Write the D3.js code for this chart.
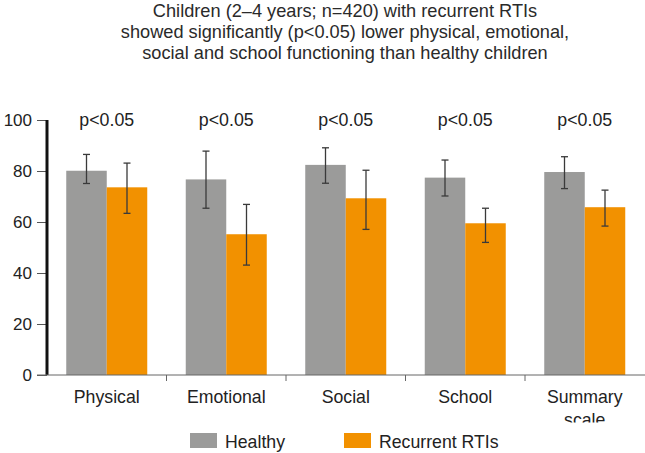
<!DOCTYPE html>
<html><head><meta charset="utf-8">
<script src="https://cdn.jsdelivr.net/npm/d3@7"></script>
<style>body{margin:0;background:#fff}svg{display:block;font-family:"Liberation Sans",Arial,sans-serif}</style>
</head><body><svg id="c" width="645" height="453"></svg>
<script>
const categories = ["Physical","Emotional","Social","School","Summary scale"];
const seriesNames = ["Healthy","Recurrent RTIs"];
const healthy = [80.1, 76.7, 82.4, 77.4, 79.6];
const healthyLow = [75.1, 65.4, 75.2, 70.2, 73.1];
const healthyHigh = [86.5, 87.8, 89.1, 84.3, 85.6];
const recurrent = [73.6, 55.2, 69.3, 59.5, 65.8];
const recurrentLow = [63.4, 43.1, 57.1, 52.0, 58.4];
const recurrentHigh = [83.1, 66.9, 80.3, 65.4, 72.5];
const pLabels = ["p<0.05","p<0.05","p<0.05","p<0.05","p<0.05"];
const yTicks = [0,20,40,60,80,100];
const titleLines = ["Children (2–4 years; n=420) with recurrent RTIs","showed significantly (p<0.05) lower physical, emotional,","social and school functioning than healthy children"];
const colors = ["#9b9b9a","#f29100"];

const svg = d3.select("#c");
const x = d3.scaleBand().domain(categories).range([47,644.5]).paddingInner(0).paddingOuter(0);
const y = d3.scaleLinear().domain([0,100]).range([375,120]);
const groupW = 81;
const x1 = d3.scaleBand().domain(seriesNames).range([0,groupW]);

// title
svg.append("g").selectAll("text").data(titleLines).join("text")
  .attr("x",345).attr("y",(d,i)=>16.5+i*21).attr("text-anchor","middle")
  .attr("font-size",18.2).attr("fill","#2a2a2a").text(d=>d);

const series = [
  {name:seriesNames[0], v:healthy, lo:healthyLow, hi:healthyHigh},
  {name:seriesNames[1], v:recurrent, lo:recurrentLow, hi:recurrentHigh}
];

// bars
series.forEach((s,si)=>{
  const g = svg.append("g");
  g.selectAll("rect").data(categories).join("rect")
    .attr("x",c=>x(c)+(x.bandwidth()-groupW)/2+x1(s.name))
    .attr("width",x1.bandwidth())
    .attr("y",(c,i)=>y(s.v[i]))
    .attr("height",(c,i)=>y(0)-y(s.v[i]))
    .attr("fill",colors[si]);
  const eb = svg.append("g").attr("stroke","#3a3a3a").attr("stroke-width",1.3);
  categories.forEach((c,i)=>{
    const cx = x(c)+(x.bandwidth()-groupW)/2+x1(s.name)+x1.bandwidth()/2;
    eb.append("line").attr("x1",cx).attr("x2",cx).attr("y1",y(s.hi[i])).attr("y2",y(s.lo[i]));
    eb.append("line").attr("x1",cx-3.5).attr("x2",cx+3.5).attr("y1",y(s.hi[i])).attr("y2",y(s.hi[i]));
    eb.append("line").attr("x1",cx-3.5).attr("x2",cx+3.5).attr("y1",y(s.lo[i])).attr("y2",y(s.lo[i]));
  });
});

// p labels
svg.append("g").selectAll("text").data(categories).join("text")
  .attr("x",c=>x(c)+x.bandwidth()/2).attr("y",y(100)+6).attr("text-anchor","middle")
  .attr("font-size",17.8).attr("fill","#222").text((c,i)=>pLabels[i]);

// y axis
const ya = svg.append("g").attr("transform","translate(47,0)")
  .call(d3.axisLeft(y).tickValues(yTicks).tickSize(10).tickPadding(5));
ya.select(".domain").remove();
ya.selectAll(".tick line").attr("stroke","#555");
ya.selectAll(".tick text").attr("font-size",17).attr("fill","#222").attr("font-family","Liberation Sans, Arial, sans-serif");
svg.append("line").attr("x1",47).attr("x2",47).attr("y1",y(100)).attr("y2",y(0)).attr("stroke","#111").attr("stroke-width",3);

// x axis
svg.append("defs").append("clipPath").attr("id","clipx").append("rect").attr("x",0).attr("y",1).attr("width",645).attr("height",46.5);
const xa = svg.append("g").attr("transform","translate(0,375)").attr("clip-path","url(#clipx)");
svg.append("line").attr("x1",37).attr("x2",645).attr("y1",375).attr("y2",375).attr("stroke","#666").attr("stroke-width",1);
const bounds = categories.map(c=>x(c)).slice(1);
svg.append("g").selectAll("line").data(bounds).join("line")
  .attr("x1",d=>d).attr("x2",d=>d).attr("y1",375).attr("y2",381).attr("stroke","#666");
xa.selectAll("text").data(categories).join("text")
  .attr("x",c=>x(c)+x.bandwidth()/2).attr("y",28).attr("text-anchor","middle")
  .attr("font-size",17.7).attr("fill","#222")
  .each(function(c){
    const words = c.split(" ");
    const t = d3.select(this);
    words.forEach((w,i)=>t.append("tspan").attr("x",x(c)+x.bandwidth()/2).attr("dy",i?22.5:0).text(w));
  });

// legend
const lg = svg.append("g");
const lx = [190, 344];
seriesNames.forEach((n,i)=>{
  lg.append("rect").attr("x",lx[i]).attr("y",433).attr("width",27).attr("height",15).attr("fill",colors[i]);
  lg.append("text").attr("x",lx[i]+35).attr("y",448).attr("font-size",17.7).attr("fill","#222").text(n);
});
</script></body></html>
